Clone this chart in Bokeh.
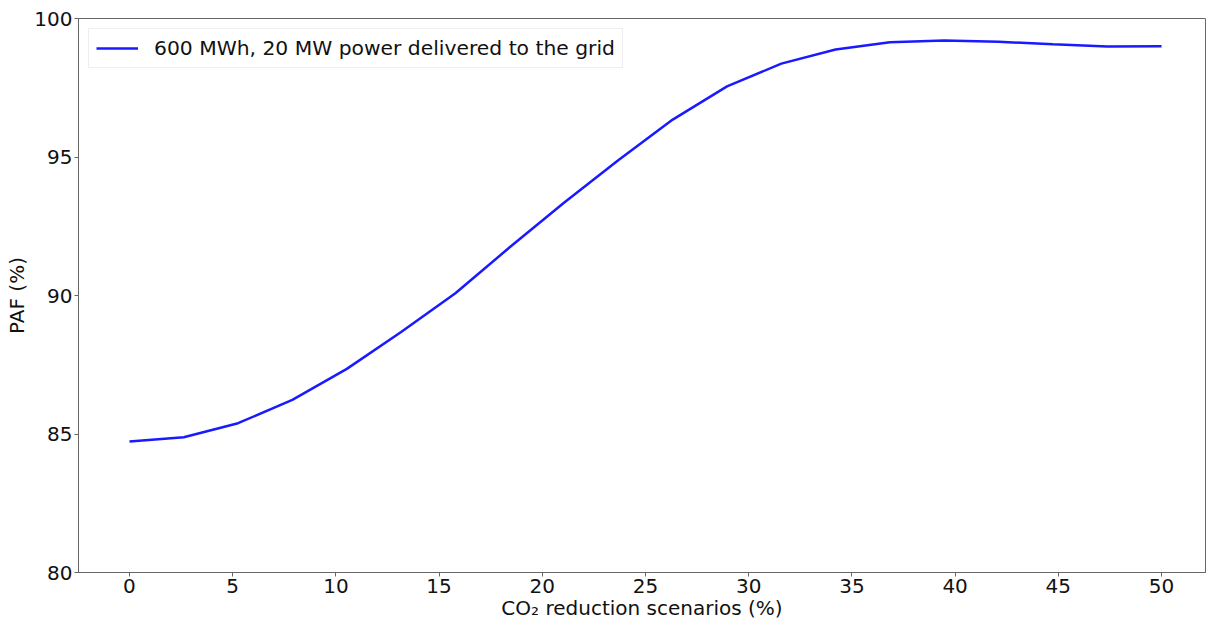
from bokeh.plotting import figure
from bokeh.models import FixedTicker, Range1d, Legend, LegendItem
from bokeh.embed import file_html
from bokeh.resources import INLINE

# Data
co2_reduction = [0.0, 2.63, 5.26, 7.89, 10.53, 13.16, 15.79, 18.42, 21.05, 23.68,
                 26.32, 28.95, 31.58, 34.21, 36.84, 39.47, 42.11, 44.74, 47.37, 50.0]
paf = [84.73, 84.88, 85.39, 86.23, 87.35, 88.68, 90.08, 91.74, 93.35, 94.88,
       96.35, 97.55, 98.37, 98.88, 99.14, 99.21, 99.16, 99.07, 98.99, 99.0]
series_label = "600 MWh, 20 MW power delivered to the grid"
x_ticks = [0, 5, 10, 15, 20, 25, 30, 35, 40, 45, 50]
y_ticks = [80, 85, 90, 95, 100]

FONT = "DejaVu Sans"
FS = "20px"

p = figure(width=1207, height=622, output_backend="svg", toolbar_location=None,
           x_range=Range1d(-2.47, 52.13), y_range=Range1d(80, 100),
           min_border_left=78, min_border_right=2, min_border_top=18, min_border_bottom=49)

r = p.line(co2_reduction, paf, line_color="#1a1aff", line_width=2.5)

p.xgrid.visible = False
p.ygrid.visible = False
p.outline_line_color = "#666666"
p.outline_line_width = 1

for ax in (p.xaxis[0], p.yaxis[0]):
    ax.axis_line_color = "#666666"
    ax.major_tick_line_color = "#666666"
    ax.major_tick_out = 4
    ax.major_tick_in = 0
    ax.minor_tick_line_color = None
    ax.major_label_text_font = FONT
    ax.major_label_text_font_size = FS
    ax.major_label_text_color = "#111111"
    ax.axis_label_text_font = FONT
    ax.axis_label_text_font_size = FS
    ax.axis_label_text_font_style = "normal"
    ax.axis_label_text_color = "#111111"
    ax.major_label_standoff = 2
    ax.axis_label_standoff = 0

p.xaxis[0].ticker = FixedTicker(ticks=x_ticks)
p.yaxis[0].ticker = FixedTicker(ticks=y_ticks)
p.xaxis[0].axis_label = "CO\u2082 reduction scenarios (%)"
p.yaxis[0].axis_label = "PAF (%)"
p.yaxis[0].axis_label_standoff = 2

legend = Legend(items=[LegendItem(label=series_label, renderers=[r])],
                location="top_left")
legend.label_text_font = FONT
legend.label_text_font_size = "20.3px"
legend.label_text_color = "#111111"
legend.border_line_color = "#dddddd"
legend.border_line_width = 1
legend.background_fill_alpha = 0.8
legend.margin = 10
legend.padding = 7
legend.glyph_width = 42
legend.label_standoff = 16
legend.spacing = 0
p.add_layout(legend)

open("out.html", "w").write(file_html(p, INLINE))
